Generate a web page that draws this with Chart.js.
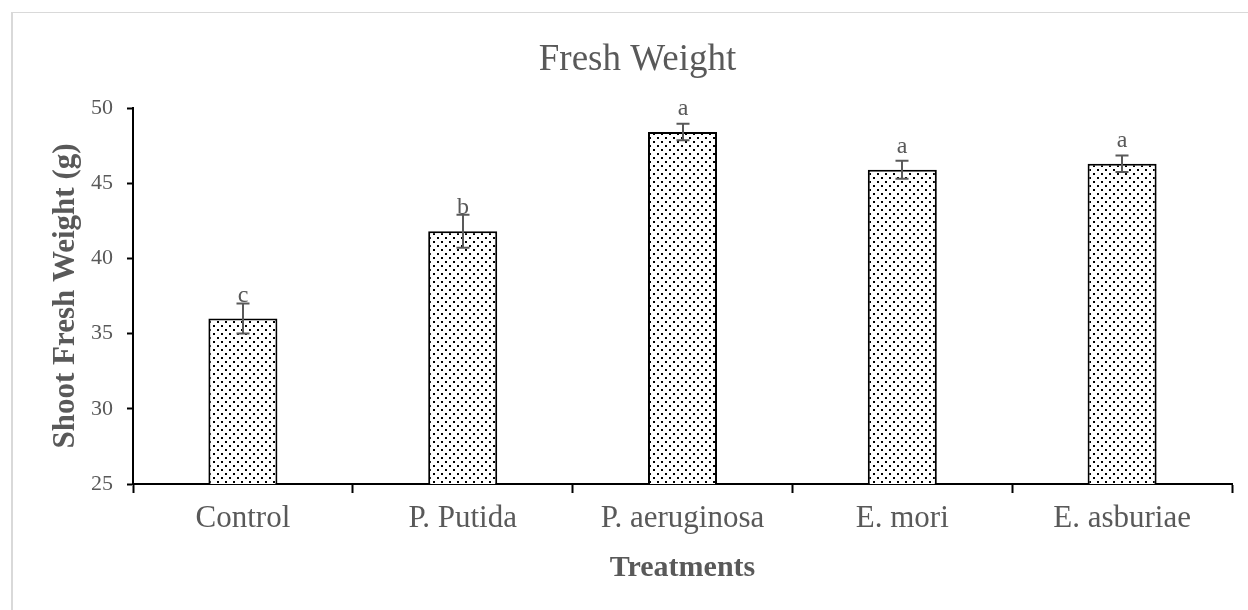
<!DOCTYPE html>
<html>
<head>
<meta charset="utf-8">
<script src="https://cdn.jsdelivr.net/npm/chart.js@4"></script>
<style>
  html, body { margin: 0; padding: 0; background: #fff; overflow: hidden; }
  #frame { position: absolute; left: 11px; top: 12px; width: 1400px; height: 800px; border-left: 2px solid #d9d9d9; border-top: 1px solid #d9d9d9; box-sizing: border-box; }
  #c { position: absolute; left: 0; top: 0; }
</style>
</head>
<body>
<div id="frame"></div>
<canvas id="c" width="1248" height="610"></canvas>
<script>
const categories = ['Control', 'P. Putida', 'P. aeruginosa', 'E. mori', 'E. asburiae'];
const shootFreshWeight = [36.0, 41.8, 48.4, 45.9, 46.3];
const errorValues = [1.0, 1.1, 0.55, 0.6, 0.55];
const significanceLetters = ['c', 'b', 'a', 'a', 'a'];
const yTicks = [25, 30, 35, 40, 45, 50];

const GRAY = '#595959';
const SERIF = '"Liberation Serif", "Times New Roman", serif';

// dotted fill pattern
const pc = document.createElement('canvas');
pc.width = 8; pc.height = 8;
const pctx = pc.getContext('2d');
pctx.fillStyle = '#fff';
pctx.fillRect(0, 0, 8, 8);
pctx.fillStyle = '#000';
pctx.fillRect(1, 1, 2, 2);
pctx.fillRect(5, 5, 2, 2);
const ctx = document.getElementById('c').getContext('2d');
const dotPattern = ctx.createPattern(pc, 'repeat');

const errorBarsPlugin = {
  id: 'errorBars',
  afterDatasetsDraw(chart) {
    const c = chart.ctx;
    const yScale = chart.scales.y;
    const meta = chart.getDatasetMeta(0);
    c.save();
    meta.data.forEach((bar, i) => {
      const v = shootFreshWeight[i];
      const e = errorValues[i];
      const x = Math.round(bar.x);
      const yt = yScale.getPixelForValue(v + e);
      const yb = yScale.getPixelForValue(v - e);
      c.strokeStyle = GRAY;
      c.lineWidth = 2;
      c.beginPath();
      c.moveTo(x, yt); c.lineTo(x, yb);
      c.moveTo(x - 6.5, yt); c.lineTo(x + 6.5, yt);
      c.moveTo(x - 6.5, yb); c.lineTo(x + 6.5, yb);
      c.stroke();
      c.fillStyle = GRAY;
      c.font = '24px ' + SERIF;
      c.textAlign = 'center';
      c.textBaseline = 'alphabetic';
      c.fillText(significanceLetters[i], x, bar.y - 17);
    });
    c.restore();
  }
};

new Chart(ctx, {
  type: 'bar',
  data: {
    labels: categories,
    datasets: [{
      data: shootFreshWeight,
      backgroundColor: dotPattern,
      borderColor: '#000',
      borderWidth: 2,
      borderSkipped: 'start',
      categoryPercentage: 1,
      barPercentage: 0.314
    }]
  },
  options: {
    responsive: false,
    animation: false,
    devicePixelRatio: 1,
    layout: { padding: { left: 43, right: 16, top: 0, bottom: 0 } },
    plugins: {
      legend: { display: false },
      tooltip: { enabled: false },
      title: {
        display: true,
        text: 'Fresh Weight',
        color: GRAY,
        font: { family: SERIF, size: 37, weight: 'normal' },
        padding: { top: 38, bottom: 25.6 }
      }
    },
    scales: {
      x: {
        type: 'category',
        offset: true,
        border: { display: true, color: '#000', width: 2 },
        grid: { drawOnChartArea: false, drawTicks: true, tickLength: 9, tickColor: '#000', tickWidth: 2, offset: true },
        ticks: { color: GRAY, font: { family: SERIF, size: 31 }, padding: 7, maxRotation: 0, autoSkip: false },
        title: { display: true, text: 'Treatments', color: GRAY, font: { family: SERIF, size: 30, weight: 'bold' }, padding: { top: 0, bottom: 24 } },
        afterFit(scale) { scale.height = 126; }
      },
      y: {
        min: 25,
        max: 50,
        afterBuildTicks(scale) { scale.ticks = yTicks.map(v => ({ value: v })); },
        border: { display: true, color: '#000', width: 2 },
        grid: { drawOnChartArea: false, drawTicks: true, tickLength: 6, tickColor: '#000', tickWidth: 2 },
        ticks: { color: GRAY, font: { family: SERIF, size: 22 }, padding: 14 },
        title: { display: true, text: 'Shoot Fresh Weight (g)', color: GRAY, font: { family: SERIF, size: 31, weight: 'bold' }, padding: { top: 4, bottom: 0 } },
        afterFit(scale) { scale.width = 90; }
      }
    }
  },
  plugins: [errorBarsPlugin]
});
</script>
</body>
</html>
